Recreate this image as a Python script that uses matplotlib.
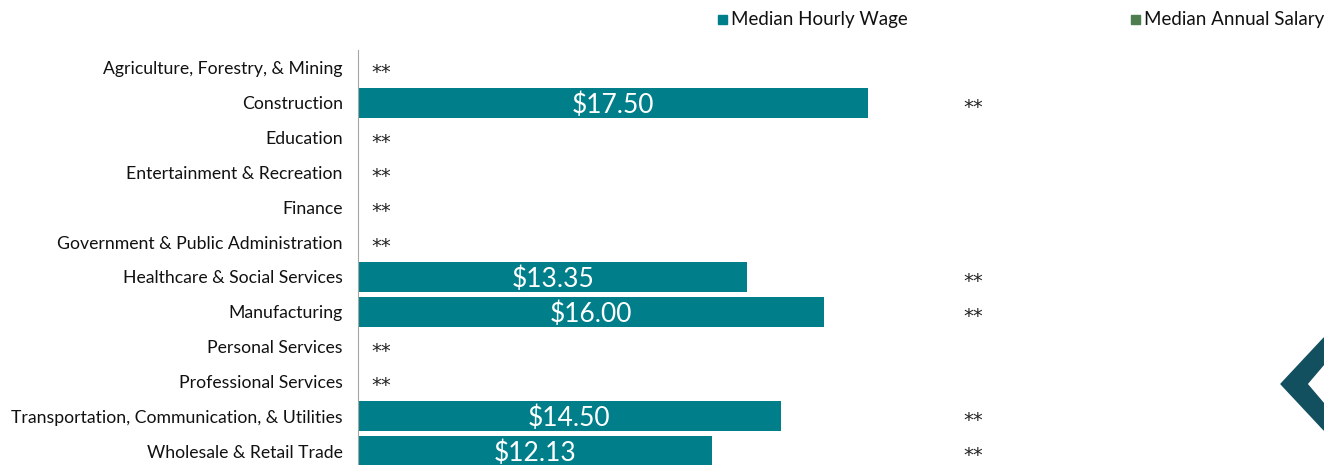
import matplotlib
matplotlib.use('Agg')
import numpy as np
from matplotlib import pyplot as plt
from matplotlib.patches import Polygon

plt.rcParams['font.family'] = ['Lato', 'DejaVu Sans']

industries = ['Agriculture, Forestry, & Mining', 'Construction', 'Education',
              'Entertainment & Recreation', 'Finance', 'Government & Public Administration',
              'Healthcare & Social Services', 'Manufacturing', 'Personal Services',
              'Professional Services', 'Transportation, Communication, & Utilities',
              'Wholesale & Retail Trade']
# nan = suppressed (**)
hourly_wage = [np.nan, 17.50, np.nan, np.nan, np.nan, np.nan,
               13.35, 16.00, np.nan, np.nan, 14.50, 12.13]
annual_salary = [np.nan] * len(industries)

teal = '#007F8A'
green = '#4E7D4E'
navy = '#124F5F'

fig = plt.figure(figsize=(13.24, 4.65), dpi=100)
ax = fig.add_axes([358 / 1324, -3.5 / 465, 962 / 1324, 418 / 465])

y = np.arange(len(industries))
ax.barh(y, np.nan_to_num(hourly_wage), height=0.86, color=teal)

star_kw = dict(va='center', fontsize=14, color='#222222', family='DejaVu Sans')
for i, (w, s) in enumerate(zip(hourly_wage, annual_salary)):
    if np.isnan(w):
        ax.text(0.45, i + 0.13, '**', ha='left', **star_kw)
    else:
        ax.text(w / 2, i + 0.06, '${:.2f}'.format(w), ha='center', va='center',
                fontsize=19, color='white')
        if np.isnan(s):
            ax.text(21.1, i + 0.13, '**', ha='center', **star_kw)

ax.set_xlim(0, 33)
ax.set_ylim(len(industries) - 0.5, -0.5)
ax.set_yticks(y)
ax.set_yticklabels(industries, fontsize=12.7, color='#111111')
ax.tick_params(axis='y', length=0, pad=11)
ax.set_xticks([])
for side in ['top', 'right', 'bottom']:
    ax.spines[side].set_visible(False)
ax.spines['left'].set_color('#A6A6A6')

# legend
fig.patches.append(plt.Rectangle((718 / 1324, 1 - 24 / 465), 9 / 1324, 9 / 465,
                                 transform=fig.transFigure, color=teal))
fig.text(731 / 1324, 1 - 19.5 / 465, 'Median Hourly Wage', fontsize=13.5, va='center', color='#111111')
fig.patches.append(plt.Rectangle((1131 / 1324, 1 - 24 / 465), 9 / 1324, 9 / 465,
                                 transform=fig.transFigure, color=green))
fig.text(1144 / 1324, 1 - 19.5 / 465, 'Median Annual Salary', fontsize=13.5, va='center', color='#111111')

# chevron decoration
pts = [(1324, 338), (1281, 384), (1324, 430), (1324, 404), (1307, 384), (1324, 364)]
fig.patches.append(Polygon([(px / 1324, 1 - py / 465) for px, py in pts],
                           closed=True, transform=fig.transFigure, color=navy,
                           joinstyle='round'))

plt.savefig('out.png', dpi=100)
